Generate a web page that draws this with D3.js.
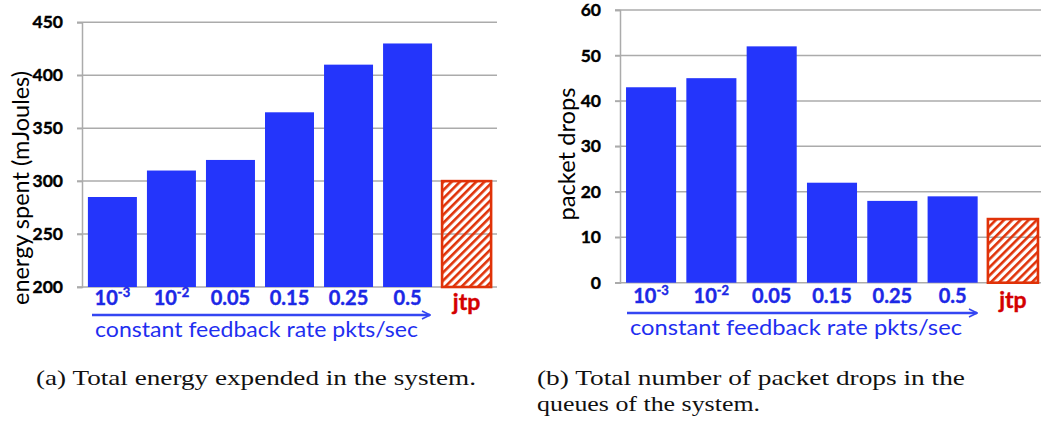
<!DOCTYPE html>
<html>
<head>
<meta charset="utf-8">
<script src="https://cdn.jsdelivr.net/npm/d3@7"></script>
<style>
  body { margin: 0; background: #fff; }
  svg { display: block; }
</style>
</head>
<body>
<svg id="fig" width="1041" height="422"></svg>
<script>
// x categories (feedback rates) + jtp
const rates = ["1e-3", "1e-2", "0.05", "0.15", "0.25", "0.5", "jtp"];
const rateBase = ["10", "10", "0.05", "0.15", "0.25", "0.5", "jtp"];
const rateExp = ["-3", "-2", "", "", "", "", ""];

// series values
const energy = [285, 310, 320, 365, 410, 430, 300];
const drops = [43, 45, 52, 22, 18, 19, 14];

// tick labels
const energyTicks = [200, 250, 300, 350, 400, 450];
const dropTicks = [0, 10, 20, 30, 40, 50, 60];

const captionA = "(a) Total energy expended in the system.";
const captionB = ["(b) Total number of packet drops in the", "queues of the system."];

const blue = "#2435fb";
const red = "#e03208";
const grid = "#ababab";

const svg = d3.select("#fig");

// hatch for the jtp bar
svg.append("defs").append("pattern")
  .attr("id", "hatch")
  .attr("patternUnits", "userSpaceOnUse")
  .attr("width", 5.8)
  .attr("height", 5.8)
  .attr("patternTransform", "rotate(45)")
  .append("rect")
  .attr("width", 2.6)
  .attr("height", 5.8)
  .attr("fill", red);

svg.append("defs").append("marker")
  .attr("id", "head")
  .attr("viewBox", "0 0 10 10")
  .attr("refX", 9).attr("refY", 5)
  .attr("markerWidth", 4).attr("markerHeight", 4)
  .attr("markerUnits", "strokeWidth")
  .attr("orient", "auto")
  .append("path")
  .attr("d", "M1,1 L9,5 L1,9")
  .attr("fill", "none")
  .attr("stroke", "#3446f2")
  .attr("stroke-width", 1.6);

function drawPanel(opt) {
  const g = svg.append("g");
  const x = d3.scaleBand().domain(rates).range([opt.x0, opt.x1])
    .paddingInner(0.17).paddingOuter(0.1);
  const y = d3.scaleLinear().domain(opt.domain).range([opt.yb, opt.yt]);

  // gridlines
  g.append("g").selectAll("line")
    .data(opt.ticks)
    .join("line")
    .attr("x1", opt.x0 - 5).attr("x2", opt.gridEnd)
    .attr("y1", d => y(d)).attr("y2", d => y(d))
    .attr("stroke", grid).attr("stroke-width", 1.5);

  // y axis
  const ax = g.append("g")
    .attr("transform", `translate(${opt.x0},0)`)
    .call(d3.axisLeft(y).tickValues(opt.ticks).tickSize(5).tickPadding(14));
  ax.select(".domain").attr("stroke", grid).attr("stroke-width", 1.5);
  ax.selectAll(".tick line").attr("stroke", grid).attr("stroke-width", 1.5);
  ax.selectAll(".tick text")
    .attr("font-family", "Lato, sans-serif")
    .attr("font-weight", "bold")
    .attr("font-size", 17.5)
    .attr("fill", "#000")
    .attr("stroke", "#000")
    .attr("stroke-width", 0.4);

  // bars
  g.append("g").selectAll("rect")
    .data(opt.values)
    .join("rect")
    .attr("x", (d, i) => x(rates[i]))
    .attr("width", x.bandwidth())
    .attr("y", d => y(d))
    .attr("height", d => opt.yb - y(d))
    .attr("fill", (d, i) => rates[i] === "jtp" ? "url(#hatch)" : blue)
    .attr("stroke", (d, i) => rates[i] === "jtp" ? red : "none")
    .attr("stroke-width", 2.6);

  // category labels
  const lab = g.append("g").selectAll("text")
    .data(rates)
    .join("text")
    .attr("x", d => x(d) + x.bandwidth() / 2)
    .attr("y", d => d === "jtp" ? opt.labY + 5 : opt.labY)
    .attr("text-anchor", "middle")
    .attr("font-family", "Lato, sans-serif")
    .attr("font-weight", "bold")
    .attr("font-size", d => d === "jtp" ? 23 : 20)
    .attr("fill", d => d === "jtp" ? "#d40000" : "#1c28e6")
    .attr("stroke", d => d === "jtp" ? "#d40000" : "#1c28e6")
    .attr("stroke-width", 0.4);
  lab.append("tspan").text((d, i) => rateBase[i]);
  lab.append("tspan")
    .attr("dy", -8)
    .attr("font-size", 13)
    .text((d, i) => rateExp[i]);

  // arrow + caption of the rate axis
  g.append("line")
    .attr("x1", opt.arrow[0]).attr("x2", opt.arrow[1])
    .attr("y1", opt.arrowY).attr("y2", opt.arrowY)
    .attr("stroke", "#3446f2").attr("stroke-width", 2.5)
    .attr("marker-end", "url(#head)");
  g.append("text")
    .attr("x", opt.arrow[0] + 3)
    .attr("y", opt.arrowY + 22)
    .attr("font-family", "Lato, sans-serif")
    .attr("font-size", 22)
    .attr("fill", "#1f2ff0")
    .attr("textLength", opt.descLen)
    .attr("lengthAdjust", "spacingAndGlyphs")
    .text("constant feedback rate pkts/sec");

  // y title
  g.append("text")
    .attr("transform", `translate(${opt.titleX},${opt.titleY}) rotate(-90)`)
    .attr("text-anchor", "middle")
    .attr("font-family", "Lato, sans-serif")
    .attr("font-size", 23)
    .attr("fill", "#000")
    .attr("textLength", opt.titleLen)
    .attr("lengthAdjust", "spacingAndGlyphs")
    .text(opt.title);
}

drawPanel({
  x0: 82, x1: 497, gridEnd: 497,
  yb: 287, yt: 22.3, domain: [200, 450], ticks: energyTicks,
  values: energy, labY: 305,
  arrow: [92, 430], arrowY: 315, descLen: 323,
  title: "energy spent (mJoules)", titleX: 29, titleY: 188, titleLen: 234
});

drawPanel({
  x0: 620, x1: 1044, gridEnd: 1041,
  yb: 282.7, yt: 10, domain: [0, 60], ticks: dropTicks,
  values: drops, labY: 303,
  arrow: [627, 977], arrowY: 313, descLen: 332,
  title: "packet drops", titleX: 575, titleY: 154, titleLen: 133
});

// figure captions
const cap = svg.append("g")
  .attr("font-family", "'Liberation Serif', 'DejaVu Serif', serif")
  .attr("font-size", 21)
  .attr("fill", "#111");
cap.append("text").attr("x", 36).attr("y", 385)
  .attr("textLength", 440).attr("lengthAdjust", "spacingAndGlyphs")
  .text(captionA);
cap.append("text").attr("x", 537).attr("y", 385)
  .attr("textLength", 428).attr("lengthAdjust", "spacingAndGlyphs")
  .text(captionB[0]);
cap.append("text").attr("x", 537).attr("y", 411)
  .attr("textLength", 223).attr("lengthAdjust", "spacingAndGlyphs")
  .text(captionB[1]);
</script>
</body>
</html>
